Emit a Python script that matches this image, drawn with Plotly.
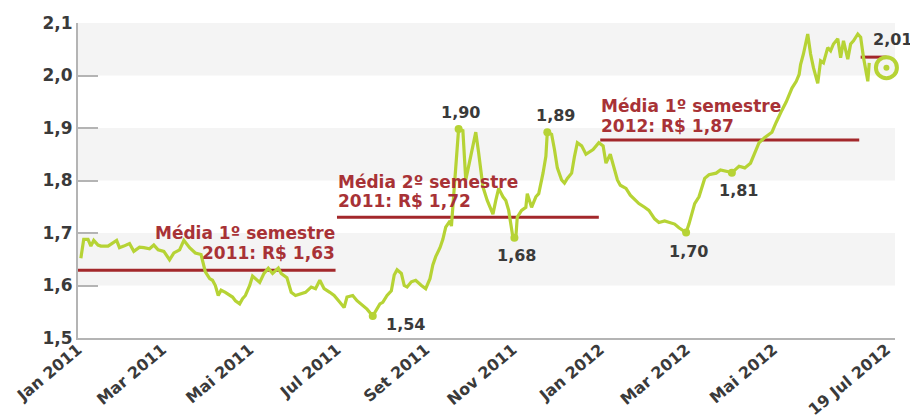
import plotly.graph_objects as go

# ---------------- data ----------------
dates = [
    "2011-01-03", "2011-01-05", "2011-01-08", "2011-01-10", "2011-01-12", "2011-01-15", "2011-01-17",
    "2011-01-22", "2011-01-28", "2011-01-30", "2011-02-02", "2011-02-06", "2011-02-09", "2011-02-13",
    "2011-02-16", "2011-02-20", "2011-02-23", "2011-02-26", "2011-03-02", "2011-03-06", "2011-03-09",
    "2011-03-13", "2011-03-16", "2011-03-20", "2011-03-24", "2011-03-28", "2011-03-31", "2011-04-03",
    "2011-04-05", "2011-04-07", "2011-04-09", "2011-04-11", "2011-04-14", "2011-04-17", "2011-04-19",
    "2011-04-21", "2011-04-24", "2011-04-26", "2011-04-28", "2011-05-01", "2011-05-03", "2011-05-08",
    "2011-05-11", "2011-05-14", "2011-05-17", "2011-05-21", "2011-05-23", "2011-05-27", "2011-05-30",
    "2011-06-02", "2011-06-06", "2011-06-09", "2011-06-13", "2011-06-16", "2011-06-19", "2011-06-22",
    "2011-06-26", "2011-06-29", "2011-07-03", "2011-07-06", "2011-07-08", "2011-07-12", "2011-07-15",
    "2011-07-19", "2011-07-22", "2011-07-26", "2011-07-28", "2011-07-31", "2011-08-02", "2011-08-05",
    "2011-08-08", "2011-08-10", "2011-08-12", "2011-08-15", "2011-08-17", "2011-08-19", "2011-08-22",
    "2011-08-25", "2011-08-29", "2011-09-01", "2011-09-04", "2011-09-06", "2011-09-08", "2011-09-11",
    "2011-09-13", "2011-09-15", "2011-09-18", "2011-09-19", "2011-09-21", "2011-09-23", "2011-09-24",
    "2011-09-27", "2011-09-29", "2011-10-01", "2011-10-04", "2011-10-06", "2011-10-08", "2011-10-11",
    "2011-10-14", "2011-10-18", "2011-10-20", "2011-10-22", "2011-10-25", "2011-10-27", "2011-10-29",
    "2011-11-01", "2011-11-03", "2011-11-04", "2011-11-07", "2011-11-10", "2011-11-11", "2011-11-14",
    "2011-11-17", "2011-11-19", "2011-11-22", "2011-11-24", "2011-11-25", "2011-11-28", "2011-11-30",
    "2011-12-02", "2011-12-05", "2011-12-07", "2011-12-09", "2011-12-12", "2011-12-14", "2011-12-16",
    "2011-12-19", "2011-12-22", "2011-12-27", "2011-12-31", "2012-01-03", "2012-01-05", "2012-01-08",
    "2012-01-11", "2012-01-13", "2012-01-15", "2012-01-19", "2012-01-22", "2012-01-26", "2012-01-28",
    "2012-02-01", "2012-02-04", "2012-02-08", "2012-02-11", "2012-02-15", "2012-02-18", "2012-02-22",
    "2012-02-25", "2012-03-01", "2012-03-03", "2012-03-07", "2012-03-10", "2012-03-14", "2012-03-17",
    "2012-03-22", "2012-03-25", "2012-03-29", "2012-04-02", "2012-04-07", "2012-04-11", "2012-04-15",
    "2012-04-18", "2012-04-21", "2012-04-25", "2012-04-30", "2012-05-03", "2012-05-05", "2012-05-07",
    "2012-05-10", "2012-05-12", "2012-05-14", "2012-05-17", "2012-05-19", "2012-05-20", "2012-05-22",
    "2012-05-25", "2012-05-27", "2012-05-29", "2012-06-01", "2012-06-03", "2012-06-05", "2012-06-08",
    "2012-06-10", "2012-06-12", "2012-06-15", "2012-06-17", "2012-06-19", "2012-06-22", "2012-06-24",
    "2012-06-26", "2012-06-29", "2012-07-01", "2012-07-03", "2012-07-06", "2012-07-07",
]
values = [
    1.652, 1.688, 1.688, 1.675, 1.686, 1.677, 1.675,
    1.675, 1.686, 1.672, 1.675, 1.680, 1.665, 1.673,
    1.672, 1.670, 1.677, 1.668, 1.665, 1.649, 1.662,
    1.668, 1.686, 1.672, 1.662, 1.659, 1.626, 1.613,
    1.610, 1.600, 1.581, 1.591, 1.587, 1.581, 1.578,
    1.571, 1.565, 1.575, 1.581, 1.600, 1.618, 1.606,
    1.623, 1.633, 1.623, 1.633, 1.623, 1.615, 1.587,
    1.581, 1.584, 1.587, 1.597, 1.594, 1.610, 1.594,
    1.587, 1.581, 1.568, 1.558, 1.578, 1.581, 1.571,
    1.562, 1.555, 1.542, 1.552, 1.565, 1.568, 1.581,
    1.590, 1.620, 1.630, 1.623, 1.600, 1.597, 1.607,
    1.610, 1.600, 1.594, 1.613, 1.639, 1.655, 1.672,
    1.688, 1.711, 1.723, 1.713, 1.788, 1.853, 1.898,
    1.895, 1.801, 1.827, 1.866, 1.892, 1.853, 1.788,
    1.762, 1.736, 1.762, 1.785, 1.769, 1.762, 1.743,
    1.691, 1.691, 1.730, 1.743, 1.749, 1.775, 1.749,
    1.769, 1.775, 1.814, 1.846, 1.892, 1.888, 1.859,
    1.824, 1.801, 1.795, 1.804, 1.814, 1.846, 1.872,
    1.866, 1.850, 1.859, 1.872, 1.866, 1.833, 1.850,
    1.820, 1.801, 1.791, 1.785, 1.772, 1.762, 1.756,
    1.749, 1.743, 1.727, 1.720, 1.723, 1.720, 1.717,
    1.710, 1.701, 1.717, 1.756, 1.769, 1.804, 1.811,
    1.814, 1.820, 1.817, 1.815, 1.827, 1.824, 1.833,
    1.853, 1.872, 1.882, 1.892, 1.911, 1.924, 1.934,
    1.950, 1.963, 1.976, 1.989, 2.002, 2.021, 2.041,
    2.079, 2.041, 2.015, 1.985, 2.028, 2.024, 2.053,
    2.047, 2.060, 2.070, 2.034, 2.066, 2.031, 2.060,
    2.066, 2.079, 2.073, 2.034, 1.989, 2.024,
]

# highlighted extremes
marked_dates = ["2011-07-26", "2011-09-24", "2011-11-02", "2011-11-25", "2012-03-01", "2012-04-02"]
marked_values = [1.542, 1.898, 1.691, 1.892, 1.701, 1.815]
marked_labels = ["1,54", "1,90", "1,68", "1,89", "1,70", "1,81"]

# latest quote
last_date = "2012-07-19"
last_value = 2.015
last_label = "2,01"

# period averages
avg_starts = ["2011-01-01", "2011-07-01", "2012-01-01", "2012-07-01"]
avg_ends = ["2011-06-30", "2011-12-31", "2012-06-30", "2012-07-19"]
avg_values = [1.629, 1.730, 1.877, 2.035]
avg_labels = ["Média 1º semestre<br>2011: R$ 1,63",
              "Média 2º semestre<br>2011: R$ 1,72",
              "Média 1º semestre<br>2012: R$ 1,87",
              None]

y_ticks = [1.5, 1.6, 1.7, 1.8, 1.9, 2.0, 2.1]
y_tick_labels = ["1,5", "1,6", "1,7", "1,8", "1,9", "2,0", "2,1"]
band_ranges = [(1.6, 1.7), (1.8, 1.9), (2.0, 2.1)]

x_ticks = ["2011-01-01", "2011-03-01", "2011-05-01", "2011-07-01", "2011-09-01",
           "2011-11-01", "2012-01-01", "2012-03-01", "2012-05-01", "2012-07-19"]
x_tick_labels = ["Jan 2011", "Mar 2011", "Mai 2011", "Jul 2011", "Set 2011",
                 "Nov 2011", "Jan 2012", "Mar 2012", "Mai 2012", "19 Jul 2012"]
x_range = ["2011-01-01", "2012-07-25"]

# ---------------- styles ----------------
GREEN = "#b6d335"
RED = "#a3282b"
LABEL_RED = "#a83236"
TEXT = "#3a3a3a"
AXIS = "#b4b4b4"
BAND = "#f4f4f4"
FONT = "DejaVu Sans"

fig = go.Figure()

shapes = []
for lo, hi in band_ranges:
    shapes.append(dict(type="rect", xref="paper", yref="y", x0=0, x1=1, y0=lo, y1=hi,
                       fillcolor=BAND, line=dict(width=0), layer="below"))

for s, e, v in zip(avg_starts, avg_ends, avg_values):
    fig.add_trace(go.Scatter(x=[s, e], y=[v, v], mode="lines", cliponaxis=False,
                             line=dict(color=RED, width=3), hoverinfo="skip", showlegend=False))

fig.add_trace(go.Scatter(x=dates, y=values, mode="lines",
                         line=dict(color=GREEN, width=3.2), showlegend=False))

fig.add_trace(go.Scatter(x=marked_dates, y=marked_values, mode="markers",
                         marker=dict(color=GREEN, size=8), showlegend=False))

fig.add_trace(go.Scatter(x=[last_date], y=[last_value], mode="markers", cliponaxis=False,
                         marker=dict(symbol="circle-open", color=GREEN, size=21,
                                     line=dict(color=GREEN, width=4)), showlegend=False))
fig.add_trace(go.Scatter(x=[last_date], y=[last_value], mode="markers", cliponaxis=False,
                         marker=dict(color=GREEN, size=6), showlegend=False))

annotations = []
# extreme labels: (xshift, yshift)
offsets = [(33, -9), (2, 17), (2, -18), (8, 17), (2, -19), (7, -18)]
for d, v, t, (dx, dy) in zip(marked_dates, marked_values, marked_labels, offsets):
    annotations.append(dict(x=d, y=v, text=t, showarrow=False, xshift=dx, yshift=dy,
                            font=dict(family=FONT, size=16, color=TEXT, weight="bold")))
annotations.append(dict(x=last_date, y=last_value, text=last_label, showarrow=False,
                        xshift=6, yshift=28,
                        font=dict(family=FONT, size=16, color=TEXT, weight="bold")))

# average labels (two lines each, placed separately for tight line spacing)
lab_pos = [
    dict(x=avg_ends[0], xanchor="right", shifts=(37, 17)),
    dict(x=avg_starts[1], xanchor="left", shifts=(35, 16)),
    dict(x=avg_starts[2], xanchor="left", shifts=(34, 14)),
]
for i, p in enumerate(lab_pos):
    for line_text, dy in zip(avg_labels[i].split("<br>"), p["shifts"]):
        annotations.append(dict(x=p["x"], y=avg_values[i], text=line_text, showarrow=False,
                                xanchor=p["xanchor"], yanchor="middle", yshift=dy,
                                borderpad=0,
                                font=dict(family=FONT, size=17, color=LABEL_RED, weight="bold")))

# the page adds an 8px body margin, so the figure is sized to fit the 918x420 window
fig.update_layout(
    width=910, height=412,
    margin=dict(l=70, r=23, t=15, b=82),
    plot_bgcolor="white", paper_bgcolor="white",
    shapes=shapes, annotations=annotations,
    showlegend=False,
    xaxis=dict(type="date", range=x_range, tickvals=x_ticks, ticktext=x_tick_labels,
               tickangle=-40, showgrid=False, zeroline=False, automargin=False,
               showline=True, linecolor=AXIS, linewidth=2, ticks="",
               ticklabelstandoff=-6,
               tickfont=dict(family=FONT, size=16, color=TEXT, weight="bold")),
    yaxis=dict(range=[1.5, 2.1], tickvals=y_ticks, ticktext=y_tick_labels,
               showgrid=False, zeroline=False, automargin=False,
               showline=True, linecolor=AXIS, linewidth=2,
               ticks="inside", ticklen=20, tickwidth=2, tickcolor=AXIS,
               tickfont=dict(family=FONT, size=17, color=TEXT, weight="bold")),
)

fig.write_html("out.html")
